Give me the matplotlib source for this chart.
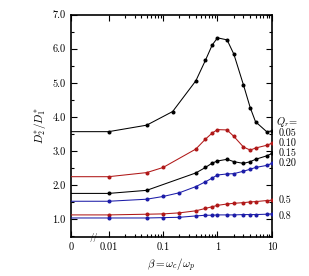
import numpy as np
import matplotlib
matplotlib.use("Agg")
import matplotlib.pyplot as plt
from matplotlib.ticker import FixedLocator

plt.rcParams['font.family'] = 'serif'
plt.rcParams['font.serif'] = ['cmr10', 'DejaVu Serif']
plt.rcParams['mathtext.fontset'] = 'cm'
plt.rcParams['axes.formatter.use_mathtext'] = True

# beta values (0 is drawn at the broken-axis origin)
beta_a = [0, 0.01, 0.05, 0.15, 0.4, 0.6, 0.8, 1, 1.5, 2, 3, 4, 5, 8, 10]
beta_b = [0, 0.01, 0.05, 0.1, 0.4, 0.6, 0.8, 1, 1.5, 2, 3, 4, 5, 8, 10]
beta_c = [0, 0.01, 0.05, 0.4, 0.6, 0.8, 1, 1.5, 2, 3, 4, 5, 8, 10]
beta_d = [0, 0.01, 0.05, 0.1, 0.2, 0.4, 0.6, 0.8, 1, 1.5, 2, 3, 4, 5, 8, 10]

q005 = [3.57, 3.57, 3.76, 4.16, 5.06, 5.66, 6.11, 6.32, 6.26, 5.84, 4.94, 4.27, 3.86, 3.57, 3.59]
q010 = [2.25, 2.25, 2.37, 2.52, 3.06, 3.35, 3.53, 3.63, 3.62, 3.43, 3.12, 3.03, 3.09, 3.17, 3.23]
q015 = [1.76, 1.76, 1.85, 2.36, 2.52, 2.65, 2.71, 2.76, 2.69, 2.64, 2.69, 2.76, 2.86, 2.93]
q020 = [1.53, 1.53, 1.59, 1.67, 1.78, 1.96, 2.10, 2.21, 2.30, 2.33, 2.34, 2.41, 2.47, 2.52, 2.58, 2.64]
q050 = [1.13, 1.13, 1.15, 1.16, 1.19, 1.25, 1.32, 1.37, 1.41, 1.45, 1.47, 1.49, 1.51, 1.52, 1.55, 1.56]
q080 = [1.04, 1.04, 1.04, 1.05, 1.06, 1.10, 1.12, 1.12, 1.13, 1.13, 1.13, 1.14, 1.14, 1.14, 1.15, 1.16]

q_labels = ['0.05', '0.10', '0.15', '0.20', '0.5', '0.8']
q_label_y = [3.52, 3.23, 2.94, 2.64, 1.57, 1.10]
xtick_vals = [0, 0.01, 0.1, 1, 10]
xtick_labels = ['0', '0.01', '0.1', '1', '10']

RED = '#b01818'
BLUE = '#1c1ca8'
BLK = 'black'

U0 = -2.69  # axis position of beta = 0


def tr(b):
    b = np.asarray(b, dtype=float)
    out = np.full(b.shape, U0)
    m = b > 0
    out[m] = np.log10(b[m])
    return out


fig = plt.figure(figsize=(3.09, 2.76), dpi=100)
ax = fig.add_axes([0.230, 0.141, 0.650, 0.806])

series = [
    (beta_a, q005, BLK),
    (beta_b, q010, RED),
    (beta_c, q015, BLK),
    (beta_d, q020, BLUE),
    (beta_d, q050, RED),
    (beta_d, q080, BLUE),
]
for bx, vals, col in series:
    u = tr(bx)
    ax.plot(u, vals, color=col, lw=0.75, zorder=3)
    ax.plot(u[1:], vals[1:], ls='none', marker='o', ms=1.9, color=col, zorder=4)

ax.set_xlim(U0, 1.0)
ax.set_ylim(0.48, 7.0)

ax.xaxis.set_major_locator(FixedLocator(tr(xtick_vals)))
ax.set_xticklabels(xtick_labels)
minors = [m * 10.0 ** d for d in (-2, -1, 0) for m in range(2, 10)]
ax.xaxis.set_minor_locator(FixedLocator(np.log10(minors)))
ax.set_yticks(np.arange(1.0, 7.01, 1.0))
ax.set_yticklabels(['%.1f' % v for v in np.arange(1.0, 7.01, 1.0)])
ax.yaxis.set_minor_locator(FixedLocator(np.arange(0.5, 7.01, 0.5)))

ax.tick_params(which='both', direction='in', top=True, right=True,
               labelsize=7.5, width=0.8)
ax.tick_params(which='major', length=4, pad=4)
ax.tick_params(which='minor', length=2)
for s in ax.spines.values():
    s.set_linewidth(1.2)

ax.set_xlabel(r'$\beta = \omega_c/\omega_p$', fontsize=8, labelpad=3)
ax.set_ylabel(r'$D_2^{\ast}/D_1^{\ast}$', fontsize=8, labelpad=3)

# axis break marker
ax.text(-2.28, 0.48, '//', fontsize=6, ha='center', va='center',
        clip_on=False, zorder=5)

# Q_r labels on the right
for t, y in zip(q_labels, q_label_y):
    ax.annotate(t, xy=(1.0, y), xycoords=('axes fraction', 'data'),
                xytext=(4.5, 0), textcoords='offset points',
                fontsize=7.3, va='center', ha='left', annotation_clip=False)
ax.annotate(r'$Q_r\!=$', xy=(1.0, 3.85), xycoords=('axes fraction', 'data'),
            xytext=(3, 0), textcoords='offset points',
            fontsize=7.5, va='center', ha='left', annotation_clip=False)

fig.savefig('out.png', dpi=100)
